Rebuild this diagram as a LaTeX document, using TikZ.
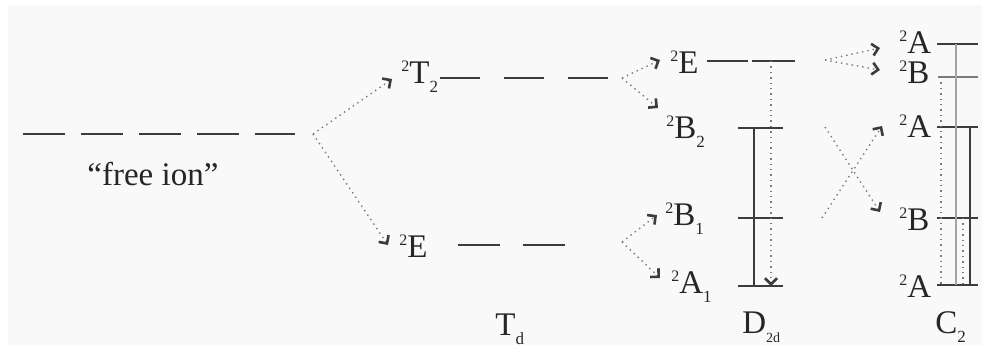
\documentclass[tikz,border=0pt]{standalone}
\usepackage{fontspec}
\setmainfont{Liberation Serif}
\usetikzlibrary{arrows.meta}
\definecolor{my_paper}{HTML}{F9F9F9}
\definecolor{my_darkgray}{HTML}{3C3C3C}
\definecolor{my_midgray}{HTML}{7A7A7A}
\definecolor{my_lightgray}{HTML}{A4A4A4}
\definecolor{my_text}{HTML}{262626}
\newcommand{\lowsub}[1]{\raisebox{-4.5pt}{\fontsize{8.5}{9}\selectfont #1}}
\newcommand{\highsup}[1]{\raisebox{6pt}{\fontsize{8}{8}\selectfont #1}}

\begin{document}
\begin{tikzpicture}[
    x=0.5pt, y=-0.5pt,
    level/.style={my_darkgray, line width=0.9pt},
    split/.style={my_midgray, dotted, line width=0.7pt,
        -{Straight Barb[length=3pt, width=6pt, line width=1.3pt, color=my_darkgray]}},
    term/.style={anchor=base west, inner sep=0pt, text=my_text,
        font=\fontsize{16.5}{19}\selectfont}
]

% ---------------------------------------------------------------
%  Aufspaltung: freies Ion -> T_d -> D_2d -> C_2
% ---------------------------------------------------------------
\useasboundingbox (0, 0) rectangle (982, 345);
\fill[my_paper] (8, 5) rectangle (982, 345);

% freies Ion
\draw[level, dash pattern=on 21pt off 8pt] (23, 134) -- (295, 134);
\node[term] (lblFree) at (87, 185) {``free ion''};
\coordinate (forkFree) at (313, 134);

% T_d
\node[term] (lblTtwo) at (401, 83) {\highsup{2}T\lowsub{2}};
\node[term] (lblEtd) at (399, 257) {\highsup{2}E};
\draw[level, dash pattern=on 20pt off 12pt] (440, 78) -- (610, 78);
\draw[level, dash pattern=on 21pt off 11.5pt] (458, 245) -- (565, 245);
\node[term] (lblTd) at (495, 335) {T\lowsub{d}};

\draw[split] (forkFree) -- ([shift={(-9, -4)}]lblTtwo.base west);
\draw[split] (forkFree) -- ([shift={(-11, -12)}]lblEtd.base west);

% D_2d
\coordinate (forkTtwo) at (622, 78);
\coordinate (forkEtd) at (622, 242);
\node[term] (lblEd) at (670, 73) {\highsup{2}E};
\node[term] (lblBtwo) at (666, 138) {\highsup{2}B\lowsub{2}};
\node[term] (lblBone) at (665, 225) {\highsup{2}B\lowsub{1}};
\node[term] (lblAone) at (671, 293) {\highsup{2}A\lowsub{1}};
\node[term] (lblDtwod) at (742, 333) {D\lowsub{\fontsize{7}{7}\selectfont 2d}};

\draw[split] (forkTtwo) -- ([shift={(-10, -13)}]lblEd.base west);
\draw[split] (forkTtwo) -- ([shift={(-8, -30)}]lblBtwo.base west);
\draw[split] (forkEtd) -- ([shift={(-8, -10)}]lblBone.base west);
\draw[split] (forkEtd) -- ([shift={(-11, -15)}]lblAone.base west);

\draw[level] (707, 61) -- (748, 61);
\draw[level] (752, 61) -- (795, 61);
\foreach \y in {128, 218, 286}
    \draw[level] (738, \y) -- (783, \y);
\draw[level, line width=0.7pt] (754, 128) -- (754, 286);
\draw[split] (771, 61) -- (771, 286);

% C_2
\coordinate (forkEd) at (825, 60);
\coordinate (fromBtwo) at (825, 127);
\coordinate (fromBone) at (822, 218);
\node[term] (lblAa) at (899, 53) {\highsup{2}A};
\node[term] (lblBb) at (899, 83) {\highsup{2}B};
\node[term] (lblAc) at (899, 137) {\highsup{2}A};
\node[term] (lblBd) at (899, 230) {\highsup{2}B};
\node[term] (lblAe) at (899, 297) {\highsup{2}A};
\node[term] (lblCtwo) at (935, 333) {C\lowsub{2}};

\draw[split] (forkEd) -- ([shift={(-19, -5)}]lblAa.base west);
\draw[split] (forkEd) -- ([shift={(-19, -13)}]lblBb.base west);
\draw[split] (fromBtwo) -- ([shift={(-19, -18)}]lblBd.base west);
\draw[split] (fromBone) -- ([shift={(-17, -11)}]lblAc.base west);

\foreach \y in {44, 127, 218, 285}
    \draw[level] (937, \y) -- (978, \y);
\draw[level, my_midgray] (938, 77) -- (978, 77);
\draw[my_lightgray, line width=0.7pt] (956, 44) -- (956, 285);
\draw[level, line width=0.7pt] (970, 127) -- (970, 285);
\draw[my_midgray, dotted, line width=0.7pt] (941, 77) -- (941, 285);
\draw[my_midgray, dotted, line width=0.7pt] (963, 218) -- (963, 285);

\end{tikzpicture}
\end{document}
